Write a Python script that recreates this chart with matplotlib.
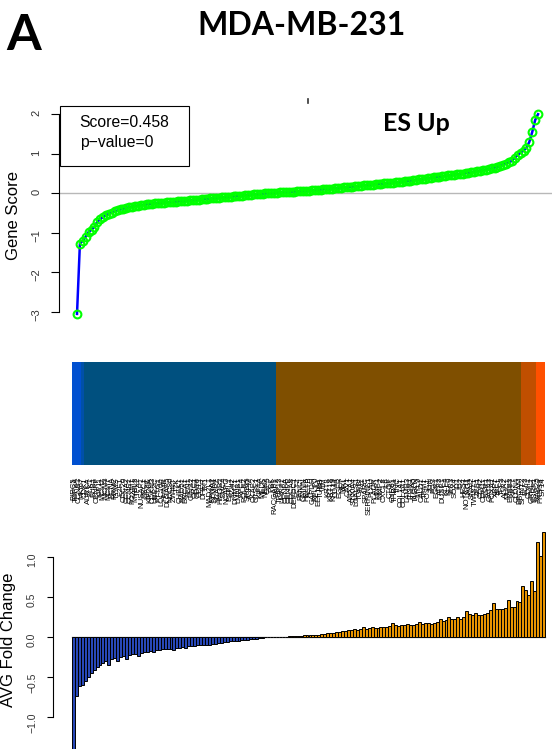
import matplotlib
matplotlib.use('Agg')
import matplotlib.pyplot as plt
import numpy as np
from matplotlib.colors import ListedColormap
from matplotlib.patches import Rectangle
from matplotlib.lines import Line2D

plt.rcParams['font.family'] = ['Liberation Sans', 'DejaVu Sans']

# ---------------- data ----------------
gene_score = [
    -3.05, -1.27, -1.20, -1.10, -0.98, -0.92, -0.85, -0.72, -0.66, -0.60,
    -0.56, -0.52, -0.49, -0.46, -0.43, -0.41, -0.39, -0.37, -0.35, -0.34,
    -0.32, -0.31, -0.30, -0.29, -0.28, -0.27, -0.26, -0.25, -0.245, -0.24,
    -0.235, -0.23, -0.225, -0.22, -0.21, -0.205, -0.20, -0.19, -0.185, -0.18,
    -0.17, -0.165, -0.16, -0.15, -0.145, -0.14, -0.13, -0.125, -0.12, -0.11,
    -0.105, -0.10, -0.09, -0.085, -0.08, -0.07, -0.065, -0.06, -0.05, -0.045,
    -0.04, -0.03, -0.025, -0.02, -0.01, -0.005, 0.00, 0.005, 0.01, 0.015,
    0.02, 0.025, 0.03, 0.035, 0.04, 0.045, 0.05, 0.055, 0.06, 0.065,
    0.07, 0.075, 0.08, 0.09, 0.095, 0.10, 0.11, 0.115, 0.12, 0.13,
    0.135, 0.14, 0.15, 0.155, 0.16, 0.17, 0.175, 0.18, 0.19, 0.20,
    0.21, 0.215, 0.22, 0.23, 0.235, 0.24, 0.25, 0.255, 0.26, 0.27,
    0.275, 0.28, 0.29, 0.30, 0.31, 0.32, 0.33, 0.34, 0.35, 0.36,
    0.37, 0.38, 0.39, 0.40, 0.41, 0.42, 0.43, 0.44, 0.45, 0.46,
    0.47, 0.48, 0.49, 0.50, 0.51, 0.52, 0.53, 0.545, 0.56, 0.575,
    0.59, 0.60, 0.61, 0.63, 0.65, 0.67, 0.69, 0.72, 0.75, 0.78,
    0.82, 0.90, 0.97, 1.03, 1.08, 1.15, 1.30, 1.55, 1.85, 2.00,
]

fold_change = [
    -1.50, -0.74, -0.62, -0.60, -0.55, -0.50, -0.46, -0.42, -0.38, -0.36,
    -0.33, -0.30, -0.35, -0.28, -0.27, -0.31, -0.25, -0.24, -0.28, -0.23,
    -0.22, -0.22, -0.24, -0.20, -0.19, -0.19, -0.18, -0.19, -0.17, -0.17,
    -0.16, -0.16, -0.15, -0.15, -0.17, -0.14, -0.14, -0.13, -0.14, -0.12,
    -0.12, -0.12, -0.11, -0.11, -0.10, -0.10, -0.11, -0.09, -0.09, -0.08,
    -0.08, -0.07, -0.07, -0.06, -0.06, -0.05, -0.05, -0.04, -0.04, -0.04,
    -0.03, -0.03, -0.03, -0.02, -0.02, -0.01, -0.005, -0.003,
    0.0, 0.0, 0.0, 0.0, 0.0, 0.003, 0.004, 0.006,
    0.01, 0.012, 0.015, 0.02, 0.015, 0.02, 0.025, 0.02, 0.03, 0.035,
    0.045, 0.04, 0.05, 0.06, 0.055, 0.07, 0.065, 0.08, 0.085, 0.09,
    0.085, 0.10, 0.12, 0.10, 0.11, 0.12, 0.11, 0.11, 0.12, 0.125,
    0.12, 0.13, 0.175, 0.14, 0.13, 0.15, 0.14, 0.16, 0.15, 0.15,
    0.16, 0.18, 0.16, 0.17, 0.17, 0.16, 0.175, 0.18, 0.22, 0.20,
    0.21, 0.25, 0.22, 0.22, 0.24, 0.22, 0.24, 0.32, 0.28, 0.27,
    0.30, 0.27, 0.27, 0.28, 0.30, 0.33, 0.42, 0.35, 0.35, 0.34,
    0.36, 0.46, 0.37, 0.375, 0.44, 0.43, 0.63, 0.58, 0.52, 0.69,
    0.57, 1.18, 1.01, 1.31,
]

gene_names = [
    "BIRC5", "TOP2A", "CCNB1", "MKI67", "CDK1", "AURKA", "PLK1", "BUB1", "CENPF", "KIF11",
    "MCM2", "MCM3", "MCM7", "PCNA", "RRM2", "TYMS", "E2F1", "CDC20", "CCNA2", "CCNE1",
    "FOXM1", "MYBL2", "TPX2", "NUSAP1", "PRC1", "KIF2C", "KIF20A", "CDKN3", "UBE2C", "PTTG1",
    "LOC100", "HMMR", "DLGAP5", "NDC80", "ZWINT", "TTK", "CHEK1", "RAD51", "BRCA1", "FEN1",
    "GINS2", "ORC1", "CDC6", "CDT1", "DHFR", "TK1", "MAD2L1", "KPNA2", "STMN1", "H2AFZ",
    "HMGB2", "SMC4", "NCAPG", "ESPL1", "EZH2", "DNMT1", "LMNB1", "RFC4", "POLE2", "SPC25",
    "ASPM", "CKAP2", "GTSE1", "KIF4A", "MELK", "NEK2", "OIP5", "PBK", "RACGAP1", "SKP2",
    "TRIP13", "UHRF1", "CENPA", "CENPE", "CDCA8", "DEPDC1", "ECT2", "FANCI", "GMNN", "HELLS",
    "ACTB", "GAPDH", "RPLP0", "EEF1A1", "TUBB", "VIM", "KRT8", "KRT18", "KRT19", "CD44",
    "EGFR", "MET", "AXL", "CAV1", "ANXA1", "S100A4", "LGALS1", "TGFBI", "FN1", "SPARC",
    "SERPINE1", "PLAU", "PLAUR", "MMP1", "MMP2", "CXCL8", "IL6", "CTGF", "CYR61", "THBS1",
    "TNC", "COL1A1", "COL4A1", "LAMB3", "ITGB1", "ITGA5", "TAGLN", "MYL9", "CALD1", "TPM1",
    "FOSL1", "JUN", "FOS", "EGR1", "ATF3", "DUSP1", "KLF4", "KLF6", "IER3", "SOX4",
    "ID1", "ID2", "HES1", "NOTCH1", "JAG1", "SNAI2", "TWIST1", "ZEB1", "CDH2", "CDH11",
    "ESR1", "GATA3", "FOXA1", "XBP1", "TFF1", "TFF3", "AGR2", "MUC1", "ERBB3", "KRT7",
    "CLDN4", "EPCAM", "SPINT2", "ELF3", "CDH1", "GRHL2", "ESRP1", "RAB25", "PRSS8", "ST14",
]

strip_counts = [3, 1, 65, 83, 5, 3]
strip_colors = ["#0050D0", "#0050A8", "#00507F", "#7F4F00", "#C04F00", "#FF5000"]

score_text = ["Score=0.458", "p\u2212value=0"]
y1_ticks = [-3, -2, -1, 0, 1, 2]
y3_ticks = [-1.0, -0.5, 0.0, 0.5, 1.0]

# ---------------- figure ----------------
W, H = 552, 749
fig = plt.figure(figsize=(W / 100, H / 100), dpi=100)


def ax_px(l, t, r, b):
    return fig.add_axes([l / W, 1 - b / H, (r - l) / W, (b - t) / H])


def fmt_minus(v, f):
    return (f % v).replace('-', '\u2212')


N = len(gene_score)
x = np.arange(N)

# --- top panel: gene score curve ---
ax1 = ax_px(58.6, 105.7, 556, 321.6)
ax1.axhline(0, color='#b8b8b8', lw=1.0, zorder=1)
ax1.plot(x, gene_score, color='#0000ff', lw=1.8, zorder=2)
ax1.plot(x, gene_score, ls='none', marker='o', ms=5.6, mfc='none',
         mec='#00ff00', mew=1.5, zorder=3)
ax1.set_xlim(-6.35, 165.2)
ax1.set_ylim(-3.245, 2.215)
for s in ['top', 'right', 'bottom']:
    ax1.spines[s].set_visible(False)
ax1.spines['left'].set_bounds(-3, 2)
ax1.spines['left'].set_linewidth(0.8)
ax1.set_xticks([])
ax1.set_yticks(y1_ticks)
ax1.set_yticklabels([fmt_minus(v, '%d') for v in y1_ticks])
ax1.tick_params(axis='y', direction='out', length=5.5, width=0.8, pad=7,
                labelsize=8, labelrotation=90, labelcolor='#333333')
ax1.patch.set_alpha(0)

# --- colour strip ---
ax2 = ax_px(72, 362.3, 545, 465)
cats = np.repeat(np.arange(len(strip_counts)), strip_counts)
ax2.imshow(cats[None, :], aspect='auto', cmap=ListedColormap(strip_colors),
           extent=(-0.5, N - 0.5, 0, 1), interpolation='nearest',
           vmin=-0.5, vmax=len(strip_colors) - 0.5)
for s in ax2.spines.values():
    s.set_visible(False)
ax2.set_yticks([])
ax2.set_xticks(x)
ax2.set_xticklabels(gene_names, rotation=90, fontsize=5.6, color='#000000')
ax2.tick_params(axis='x', length=0, pad=8.6)

# --- bottom: fold change bars ---
ax3 = ax_px(53, 525, 564, 749)
bar_colors = ['#2848b8' if v < 0 else '#e89400' for v in fold_change]
ax3.bar(x, fold_change, width=1.0, color=bar_colors, edgecolor='black',
        linewidth=0.7, zorder=2)
ax3.plot([-0.5, N - 0.5], [0, 0], color='#909090', lw=1.0, zorder=1)
ax3.set_xlim(-6.9, 165.9)
ax3.set_ylim(-1.404, 1.396)
for s in ['top', 'right', 'bottom']:
    ax3.spines[s].set_visible(False)
ax3.spines['left'].set_bounds(-1, 1)
ax3.spines['left'].set_linewidth(0.8)
ax3.set_xticks([])
ax3.set_yticks(y3_ticks)
ax3.set_yticklabels([fmt_minus(v, '%.1f') for v in y3_ticks])
ax3.tick_params(axis='y', direction='out', length=4.5, width=0.8, pad=7,
                labelsize=7.5, labelrotation=90, labelcolor='#333333')
ax3.patch.set_alpha(0)

# --- texts ---
fig.text(24 / W, 1 - 50 / H, 'A', fontsize=36, fontweight='bold',
         family=['Lato', 'DejaVu Sans'], ha='center', va='baseline')
fig.text(302 / W, 1 - 35 / H, 'MDA-MB-231', fontsize=23, fontweight='bold',
         family=['Lato', 'DejaVu Sans'], ha='center', va='baseline')
fig.text(416 / W, 1 - 131 / H, 'ES Up', fontsize=18, fontweight='bold',
         family=['Lato', 'DejaVu Sans'], ha='center', va='baseline')

fig.add_artist(Rectangle((60 / W, 1 - 166 / H), (189 - 60) / W, (166 - 105.7) / H,
                         transform=fig.transFigure, fill=False, ec='black', lw=0.8))
fig.text(79 / W, 1 - 126.7 / H, score_text[0], fontsize=11.3, va='baseline', ha='left')
fig.text(80 / W, 1 - 146.5 / H, score_text[1], fontsize=11.3, va='baseline', ha='left')

fig.text(14 / W, 1 - 215 / H, 'Gene Score', rotation=90, fontsize=12,
         ha='center', va='center')
fig.text(9 / W, 1 - 640 / H, 'AVG Fold Change', rotation=90, fontsize=12,
         ha='center', va='center')

fig.add_artist(Line2D([308 / W, 308 / W], [1 - 99 / H, 1 - 103 / H],
                      color='#333333', lw=1.2))

fig.savefig('out.png', dpi=100)
